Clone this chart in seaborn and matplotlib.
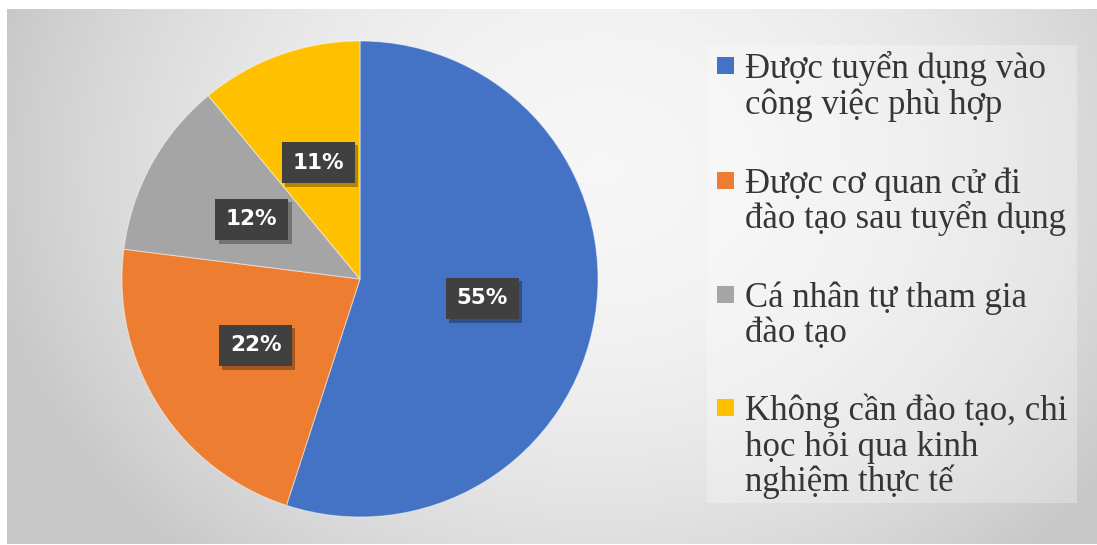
import numpy as np
import matplotlib
matplotlib.use("Agg")
import matplotlib.pyplot as plt
import matplotlib.patheffects as pe
from matplotlib.patches import Rectangle
import seaborn as sns

# Survey shares
categories = [
    "Được tuyển dụng vào\ncông việc phù hợp",
    "Được cơ quan cử đi\nđào tạo sau tuyển dụng",
    "Cá nhân tự tham gia\nđào tạo",
    "Không cần đào tạo, chi\nhọc hỏi qua kinh\nnghiệm thực tế",
]
values = [55, 22, 12, 11]
colors = ["#4472C4", "#ED7D31", "#A5A5A5", "#FFC000"]

sns.set_theme(style="white")
plt.rcParams["font.family"] = ["DejaVu Sans"]
palette = sns.color_palette(colors)

W, H = 1097, 545
fig = plt.figure(figsize=(W / 100, H / 100), dpi=100, facecolor="white")


def fx(px):
    return px / W


def fy(py):
    return 1 - py / H


# Soft radial gradient for the chart area, placed pixel-exact
xs = np.arange(7, W)
ys = np.arange(9, H - 1)
X, Y = np.meshgrid(xs, ys)
r = np.sqrt(((X - 600) / 620.0) ** 2 + ((Y - 170) / 520.0) ** 2)
r = np.clip(r, 0, 1)
shade = 0.965 - 0.18 * r ** 2
fig.figimage(np.dstack([shade] * 3), xo=7, yo=1, origin="upper", zorder=-5)

# Pie
cx, cy, R = 360, 279, 238
ax = fig.add_axes([fx(cx - R), (H - cy - R) / H, 2 * R / W, 2 * R / H], zorder=2)
wedges, texts, autotexts = ax.pie(
    values,
    colors=palette,
    startangle=90,
    counterclock=False,
    autopct=lambda p: f"{p:.0f}%",
    pctdistance=0.52,
    wedgeprops=dict(edgecolor=(1, 1, 1, 0.45), linewidth=0.8),
)
for w in wedges:
    w.set_clip_on(False)
ax.set_xlim(-1, 1)
ax.set_ylim(-1, 1)
ax.set_aspect("equal")
ax.patch.set_visible(False)
ax.set_axis_off()

for t in autotexts:
    t.set_color("white")
    t.set_fontweight("bold")
    t.set_fontsize(15.5)
    t.set_bbox(dict(boxstyle="square,pad=0.5", fc="#404040", ec="none"))
    t.get_bbox_patch().set_path_effects(
        [pe.SimplePatchShadow(offset=(2.5, -2.5), shadow_rgbFace="black", alpha=0.3), pe.Normal()]
    )

# Legend panel
fig.patches.append(
    Rectangle((fx(707), fy(503)), fx(1077) - fx(707), fy(45) - fy(503),
              transform=fig.transFigure, fc="white", alpha=0.28, ec="none", zorder=1)
)
first_baselines = [78, 193, 307, 420]
line_step = 35.5
for label, col, base in zip(categories, palette, first_baselines):
    fig.patches.append(
        Rectangle((fx(717), fy(base - 4)), 17 / W, 17 / H,
                  transform=fig.transFigure, fc=col, ec="none", zorder=2)
    )
    for i, line in enumerate(label.split("\n")):
        fig.text(fx(745), fy(base + i * line_step), line,
                 family=["Liberation Serif", "DejaVu Serif"], fontsize=25,
                 color="#363636", va="baseline", ha="left", zorder=3)

fig.savefig("out.png", dpi=100, facecolor="white")
